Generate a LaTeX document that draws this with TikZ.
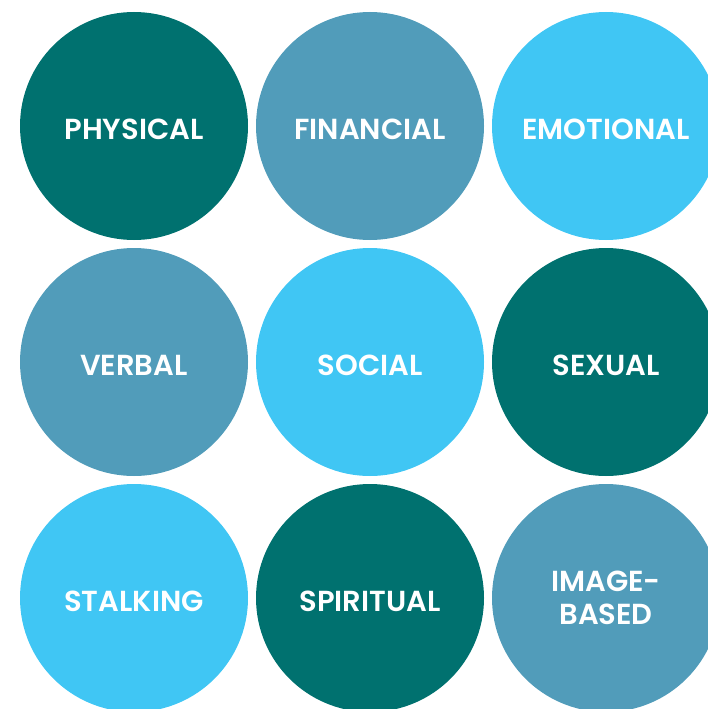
\documentclass[tikz,border=0pt]{standalone}
\usepackage{fontspec}
\setmainfont{Poppins}[BoldFont={Poppins SemiBold}]
\definecolor{darkteal}{HTML}{00716F}
\definecolor{midblue}{HTML}{519CBA}
\definecolor{skyblue}{HTML}{40C6F4}
\begin{document}
\begin{tikzpicture}[x=1pt,y=-1pt,
    blob/.style={circle,minimum size=228pt,inner sep=0pt,text=white,
      font=\fontsize{29}{33}\selectfont\bfseries,align=center},
    oneline/.style={text height=26pt,text depth=0pt}]
        \pgfmathsetmacro\xa{134}
        \pgfmathsetmacro\xb{370}
        \pgfmathsetmacro\xc{606}
        \pgfmathsetmacro\ya{126}
        \pgfmathsetmacro\yb{362}
        \pgfmathsetmacro\yc{598}
        \useasboundingbox (0,0) rectangle (708,709);
        \clip (0,0) rectangle (708,709);
        % first row
        \node[blob,oneline,fill=darkteal] (physical) at (\xa,\ya) {PHYSICAL};
        \node[blob,oneline,fill=midblue] (financial) at (\xb,\ya) {FINANCIAL};
        \node[blob,oneline,fill=skyblue] (emotional) at (\xc,\ya) {EMOTIONAL};
        % second row
        \node[blob,oneline,fill=midblue] (verbal) at (\xa,\yb) {VERBAL};
        \node[blob,oneline,fill=skyblue] (social) at (\xb,\yb) {SOCIAL};
        \node[blob,oneline,fill=darkteal] (sexual) at (\xc,\yb) {SEXUAL};
        % third row
        \node[blob,oneline,fill=skyblue] (stalking) at (\xa,\yc) {STALKING};
        \node[blob,oneline,fill=darkteal] (spiritual) at (\xb,\yc) {SPIRITUAL};
        \node[blob,fill=midblue] (imagebased) at (\xc,\yc) {IMAGE-\\BASED};
    \end{tikzpicture}
\end{document}
